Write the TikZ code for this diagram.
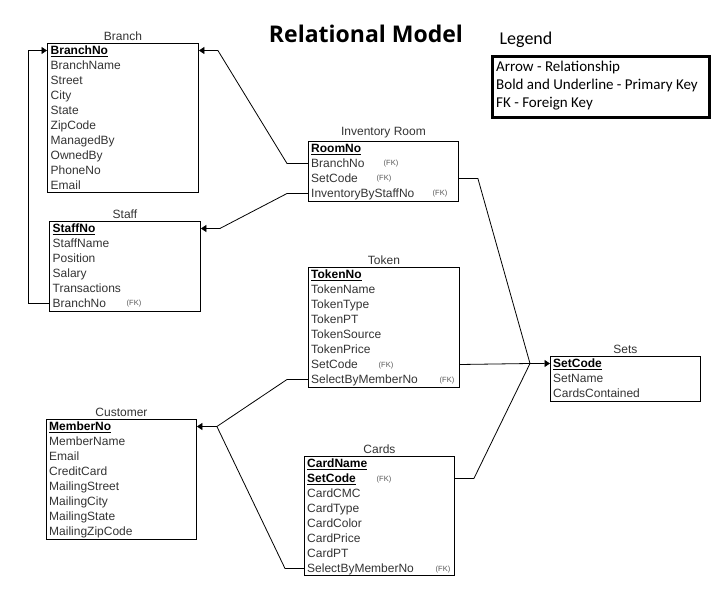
\documentclass[tikz,border=0pt]{standalone}
\usepackage{fontspec}
\setmainfont{Liberation Sans}
\newfontfamily\headfont{Open Sans}
\newfontfamily\legfont{Carlito}
\usepackage{xcolor}
\usepackage{tikz}
\usetikzlibrary{arrows.meta,positioning,calc}
\definecolor{fieldc}{HTML}{333333}
\definecolor{fkc}{HTML}{555555}
\newcommand{\prim}[1]{\underline{\textbf{#1}}}
\tikzset{
  tbl/.style={draw=black,line width=0.9pt,anchor=north west,inner sep=0pt},
  fld/.style={anchor=west,inner sep=0pt,text height=9.5pt,text depth=1pt,
    font=\fontsize{12}{14}\selectfont,text=fieldc},
  pkey/.style={fld,text=black},
  fk/.style={inner sep=0pt,font=\fontsize{7.5}{9}\selectfont,text=fkc},
  ttl/.style={inner sep=0pt,font=\fontsize{12}{14}\selectfont,text=fieldc},
  % --- connectors ---
  rel/.style={draw=black,line width=0.8pt,-{Triangle[length=5.5pt,width=7pt]}},
  link/.style={draw=black,line width=0.8pt},
}

\begin{document}
\begin{tikzpicture}[x=1pt,y=-1pt,
   leg/.style={anchor=west,inner sep=0pt,text height=10pt,text depth=3pt,
     font=\legfont\fontsize{15}{17}\selectfont}]
  \useasboundingbox (0,0) rectangle (726,601);
  % heading and legend
  \node[font=\headfont\bfseries\fontsize{23}{26}\selectfont] (head) at (366,34){Relational Model};
  \node[font=\legfont\fontsize{18}{20}\selectfont] (legT) at (526,40){Legend};
  \node[draw=black,line width=3pt,anchor=north west,minimum width=217,minimum height=61] (leg) at (491,55){};
  \node[leg] (leg1) at (496,68){Arrow - Relationship};
  \node[leg] (leg2) at (496,86){Bold and Underline - Primary Key};
  \node[leg] (leg3) at (496,104){FK - Foreign Key};
  % Branch
  \node[tbl,minimum width=151,minimum height=149] (branch) at (47,43){};
  \node[ttl,above=2.5pt of branch] (branchT){Branch};
  \node[pkey] (br0) at (50.5,50.5){\prim{BranchNo}};
  \foreach \f [count=\i] in {BranchName,Street,City,State,ZipCode,ManagedBy,OwnedBy,PhoneNo,Email}
    \node[fld] (br\i) at (50.5,50.5+15*\i){\f};
  % Staff
  \node[tbl,minimum width=151,minimum height=90] (staff) at (49,221){};
  \node[ttl,above=2.5pt of staff] (staffT){Staff};
  \node[pkey] (st0) at (52.5,228.5){\prim{StaffNo}};
  \foreach \f [count=\i] in {StaffName,Position,Salary,Transactions,BranchNo}
    \node[fld] (st\i) at (52.5,228.5+15*\i){\f};
  \node[fk] (fk1) at (134,303.5){(FK)};
  % Inventory Room
  \node[tbl,minimum width=150,minimum height=60] (inv) at (308,141){};
  \node[ttl,above=2.5pt of inv] (invT){Inventory Room};
  \node[pkey] (inv0) at (311,148.5){\prim{RoomNo}};
  \foreach \f [count=\i] in {BranchNo,SetCode,InventoryByStaffNo}
    \node[fld] (inv\i) at (311,148.5+15*\i){\f};
  \node[fk] (fk2) at (391,163.5){(FK)};
  \node[fk] (fk3) at (384,178.5){(FK)};
  \node[fk] (fk4) at (440,193.5){(FK)};
  % Token
  \node[tbl,minimum width=151,minimum height=120] (tok) at (308,267){};
  \node[ttl,above=2.5pt of tok] (tokT){Token};
  \node[pkey] (tok0) at (311,274.5){\prim{TokenNo}};
  \foreach \f [count=\i] in {TokenName,TokenType,TokenPT,TokenSource,TokenPrice,SetCode,SelectByMemberNo}
    \node[fld] (tok\i) at (311,274.5+15*\i){\f};
  \node[fk] (fk5) at (386,365.5){(FK)};
  \node[fk] (fk6) at (447,380.5){(FK)};
  % Sets
  \node[tbl,minimum width=150,minimum height=45] (sets) at (550,356){};
  \node[ttl,above=2.5pt of sets] (setsT){Sets};
  \node[pkey] (set0) at (553,363.5){\prim{SetCode}};
  \foreach \f [count=\i] in {SetName,CardsContained}
    \node[fld] (set\i) at (553,363.5+15*\i){\f};
  % Customer
  \node[tbl,minimum width=150,minimum height=120] (cust) at (46,419){};
  \node[ttl,above=2.5pt of cust] (custT){Customer};
  \node[pkey] (cust0) at (49,426.5){\prim{MemberNo}};
  \foreach \f [count=\i] in {MemberName,Email,CreditCard,MailingStreet,MailingCity,MailingState,MailingZipCode}
    \node[fld] (cust\i) at (49,426.5+15*\i){\f};
  % Cards
  \node[tbl,minimum width=150,minimum height=119] (cards) at (304,456){};
  \node[ttl,above=2.5pt of cards] (cardsT){Cards};
  \node[pkey] (card0) at (307,463.5){\prim{CardName}};
  \node[pkey] (card1) at (307,478.5){\prim{SetCode}};
  \foreach \f [count=\i from 2] in {CardCMC,CardType,CardColor,CardPrice,CardPT,SelectByMemberNo}
    \node[fld] (card\i) at (307,463.5+15*\i){\f};
  \node[fk] (fk7) at (384,479.5){(FK)};
  \node[fk] (fk8) at (443,569.5){(FK)};
  % relationships
  \coordinate (jset) at ($(sets.west |- set0)+(-20,0)$);
  \coordinate (jcust) at ($(cust.east |- cust0)+(20,0)$);
  \draw[rel] (staff.west |- st5) -- ++(-21,0) |- (branch.west |- br0);
  \draw[rel] (inv.west |- inv1) -- ++(-21,0) -- ($(branch.east |- br0)+(19,0)$) -- (branch.east |- br0);
  \draw[rel] (inv.west |- inv3) -- ++(-21,0) -- ($(staff.east |- st0)+(19,0)$) -- (staff.east |- st0);
  \draw[rel] (inv.east |- inv2) -- ++(19,0) -- (jset) -- (sets.west |- set0);
  \draw[link] (tok.east |- tok6) -- (jset);
  \draw[link] (cards.east |- card1) -- ++(19,0) -- (jset);
  \draw[rel] (tok.west |- tok7) -- ++(-21,0) -- (jcust) -- (cust.east |- cust0);
  \draw[link] (cards.west |- card7) -- ++(-19,0) -- (jcust);
\end{tikzpicture}
\end{document}
